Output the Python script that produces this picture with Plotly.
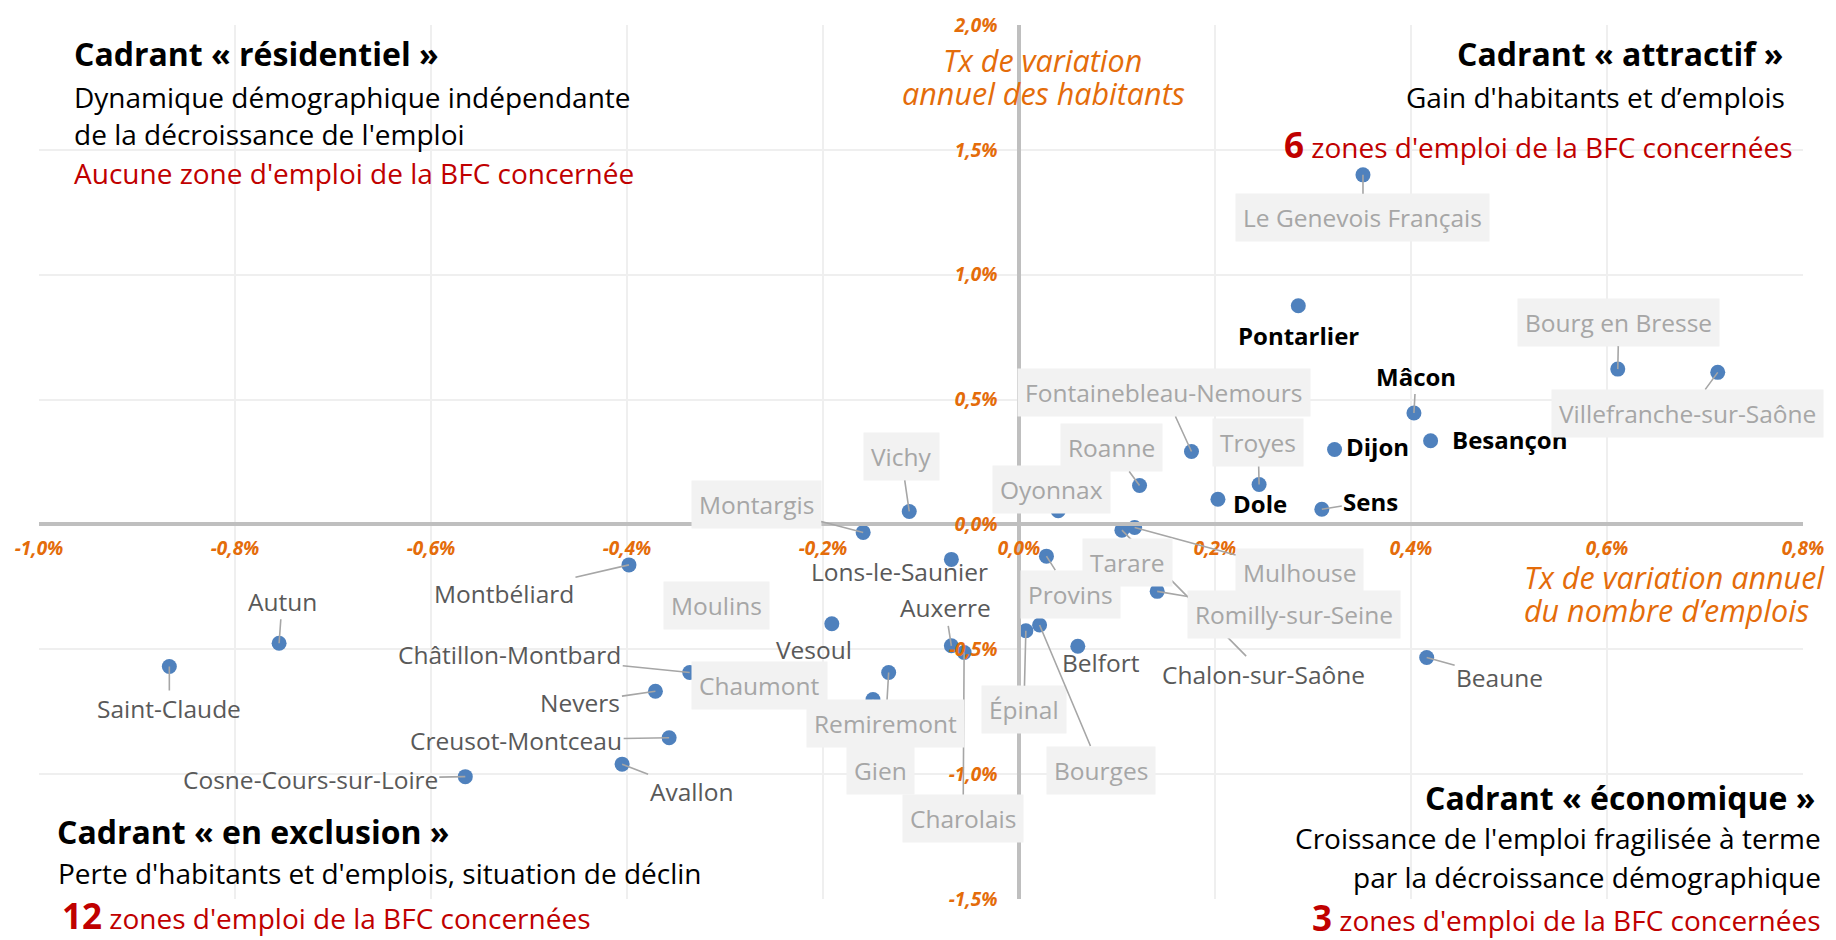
import plotly.graph_objects as go

# ---------------- DATA ----------------
zones = [
    "Le Genevois Français", "Pontarlier", "Mâcon", "Besançon", "Dijon", "Dole", "Sens",
    "Troyes", "Bourg en Bresse", "Villefranche-sur-Saône", "Fontainebleau-Nemours", "Roanne",
    "Oyonnax", "Vichy", "Montargis", "Chalon-sur-Saône", "Mulhouse", "Provins",
    "Romilly-sur-Seine", "Lons-le-Saunier", "Montbéliard", "Vesoul", "Auxerre",
    "Charolais", "Épinal", "Bourges", "Belfort", "Beaune", "Autun", "Saint-Claude",
    "Châtillon-Montbard", "Gien", "Remiremont", "Nevers", "Creusot-Montceau", "Avallon",
    "Cosne-Cours-sur-Loire", "Tarare", "Moulins", "Chaumont",
]
# taux de variation annuel du nombre d'emplois (%)
var_emplois = [
    0.351, 0.285, 0.403, 0.420, 0.322, 0.203, 0.309,
    0.245, 0.611, 0.713, 0.176, 0.123,
    0.040, -0.112, -0.159, 0.105, 0.118, 0.028,
    0.141, -0.069, -0.398, -0.191, -0.069,
    -0.056, 0.007, 0.021, 0.060, 0.416, -0.755, -0.867,
    -0.336, -0.149, -0.133, -0.371, -0.357, -0.405,
    -0.565, 0.111, -0.309, -0.265,
]
# taux de variation annuel des habitants (%)
var_habitants = [
    1.400, 0.876, 0.446, 0.335, 0.300, 0.101, 0.061,
    0.160, 0.622, 0.609, 0.292, 0.156,
    0.055, 0.052, -0.032, -0.023, -0.012, -0.127,
    -0.268, -0.140, -0.162, -0.398, -0.486,
    -0.513, -0.426, -0.403, -0.488, -0.533, -0.476, -0.569,
    -0.593, -0.701, -0.593, -0.668, -0.854, -0.960,
    -1.010, -0.153, -0.325, -0.646,
]
# type de zone : "bfc_attr" (BFC, cadrant attractif), "bfc" (autre zone BFC), "hors" (hors BFC)
zone_type = [
    "hors", "bfc_attr", "bfc_attr", "bfc_attr", "bfc_attr", "bfc_attr", "bfc_attr",
    "hors", "hors", "hors", "hors", "hors",
    "hors", "hors", "hors", "bfc", "hors", "hors",
    "hors", "bfc", "bfc", "bfc", "bfc",
    "hors", "hors", "hors", "bfc", "bfc", "bfc", "bfc",
    "bfc", "hors", "hors", "bfc", "bfc", "bfc",
    "bfc", "hors", "hors", "hors",
]

x_tickvals = [-1.0, -0.8, -0.6, -0.4, -0.2, 0.0, 0.2, 0.4, 0.6, 0.8]
x_ticktext = ["-1,0%", "-0,8%", "-0,6%", "-0,4%", "-0,2%", "0,0%", "0,2%", "0,4%", "0,6%", "0,8%"]
y_tickvals = [-1.5, -1.0, -0.5, 0.0, 0.5, 1.0, 1.5, 2.0]
y_ticktext = ["-1,5%", "-1,0%", "-0,5%", "0,0%", "0,5%", "1,0%", "1,5%", "2,0%"]

# ---------------- LAYOUT / STYLE ----------------
W, H = 1836, 940
ML, MR, MT, MB = 39, 28, 19, 41
FONT = "Open Sans"
ORANGE = "#E46C0A"
RED = "#C00000"
DOT = "#4F81BD"
LEADER = "#A6A6A6"
LABEL_SIZE = 24.5

# label offsets in pixels (dx, dy) and whether a leader line is drawn
label_pos = {
    "Le Genevois Français": (0, 43, True),
    "Pontarlier": (0, 30, False),
    "Mâcon": (2, -37, True),
    "Besançon": (79, -1, False),
    "Dijon": (43, -3, False),
    "Dole": (42, 4, False),
    "Sens": (49, -8, True),
    "Troyes": (-1, -42, True),
    "Bourg en Bresse": (1, -47, True),
    "Villefranche-sur-Saône": (-30, 41, True),
    "Fontainebleau-Nemours": (-27, -59, True),
    "Roanne": (-28, -38, True),
    "Oyonnax": (-7, -21, False),
    "Vichy": (-8, -55, True),
    "Montargis": (-107, -28, True),
    "Chalon-sur-Saône": (142, 144, True),
    "Mulhouse": (165, 45, True),
    "Tarare": (0, 0, False),
    "Provins": (24, 38, True),
    "Romilly-sur-Seine": (137, 23, True),
    "Lons-le-Saunier": (-52, 12, False),
    "Montbéliard": (-125, 29, True),
    "Moulins": (0, 0, False),
    "Vesoul": (-18, 26, False),
    "Auxerre": (-6, -38, True),
    "Charolais": (-1, 166, True),
    "Épinal": (-2, 79, True),
    "Bourges": (61, 145, True),
    "Belfort": (23, 16, False),
    "Beaune": (73, 20, True),
    "Autun": (3, -42, True),
    "Saint-Claude": (0, 42, True),
    "Châtillon-Montbard": (-180, -18, True),
    "Chaumont": (0, 0, False),
    "Remiremont": (-3, 51, True),
    "Gien": (8, 71, True),
    "Nevers": (-75, 11, True),
    "Creusot-Montceau": (-153, 3, True),
    "Avallon": (69, 27, True),
    "Cosne-Cours-sur-Loire": (-155, 3, True),
}

fig = go.Figure()
fig.add_trace(go.Scatter(
    x=var_emplois, y=var_habitants, mode="markers",
    marker=dict(size=15, color=DOT, line=dict(width=0)),
    text=zones, hoverinfo="text", showlegend=False, cliponaxis=False,
))

annotations = []
# text labels first, boxed labels afterwards (boxes hide lines under them)
order = [i for i, t in enumerate(zone_type) if t != "hors"] + [i for i, t in enumerate(zone_type) if t == "hors"]
for i in order:
    name = zones[i]
    dx, dy, leader = label_pos[name]
    t = zone_type[i]
    a = dict(
        x=var_emplois[i], y=var_habitants[i], xref="x", yref="y",
        ax=dx, ay=dy, axref="pixel", ayref="pixel",
        showarrow=True, arrowhead=0, arrowwidth=1.6, standoff=0, startstandoff=0,
        arrowcolor=LEADER if leader else "rgba(0,0,0,0)",
    )
    if t == "bfc_attr":
        a.update(text="<b>" + name + "</b>", font=dict(family=FONT, size=24, color="#000000"))
    elif t == "bfc":
        a.update(text=name, font=dict(family=FONT, size=LABEL_SIZE, color="#595959"))
    else:
        a.update(text=name, font=dict(family=FONT, size=LABEL_SIZE, color="#A6A6A6"),
                 bgcolor="#F2F2F2", borderpad=7)
    annotations.append(a)


def px(xp):
    return (xp - ML) / (W - ML - MR)


def py(yp):
    return 1 - (yp - MT) / (H - MT - MB)


def txt(text, xp, yp, anchor, size, color="#000000", bold=False, italic=False):
    annotations.append(dict(
        text=text, x=px(xp), y=py(yp), xref="paper", yref="paper",
        xanchor=anchor, yanchor="middle", showarrow=False, align=anchor if anchor != "center" else "center",
        font=dict(family=FONT, size=size, color=color,
                  weight="bold" if bold else "normal",
                  style="italic" if italic else "normal"),
    ))


HEAD, BODY, BIG = 32, 28, 35
# Cadrant résidentiel (haut gauche)
txt("Cadrant « résidentiel »", 72, 48, "left", HEAD, bold=True)
txt("Dynamique démographique indépendante", 72, 91, "left", BODY)
txt("de la décroissance de l'emploi", 72, 129, "left", BODY)
txt("Aucune zone d'emploi de la BFC concernée", 72, 168, "left", BODY, color=RED)
# Cadrant attractif (haut droite)
txt("Cadrant « attractif »", 1791, 48, "right", HEAD, bold=True)
txt("Gain d'habitants et d’emplois", 1792, 91, "right", BODY)
txt("<span style='font-size:%dpx'><b>6</b></span> zones d'emploi de la BFC concernées" % BIG,
    1800, 139, "right", BODY, color=RED)
# Cadrant en exclusion (bas gauche)
txt("Cadrant « en exclusion »", 55, 831, "left", HEAD, bold=True)
txt("Perte d'habitants et d'emplois, situation de déclin", 56, 873, "left", BODY)
txt("<span style='font-size:%dpx'><b>12</b></span> zones d'emploi de la BFC concernées" % BIG,
    60, 916, "left", BODY, color=RED)
# Cadrant économique (bas droite)
txt("Cadrant « économique »", 1822, 797, "right", HEAD, bold=True)
txt("Croissance de l'emploi fragilisée à terme", 1828, 838, "right", BODY)
txt("par la décroissance démographique", 1828, 877, "right", BODY)
txt("<span style='font-size:%dpx'><b>3</b></span> zones d'emploi de la BFC concernées" % BIG,
    1828, 918, "right", BODY, color=RED)

# axis titles
TITLE = 30.5
txt("Tx de variation", 1045, 54, "center", TITLE, color=ORANGE, italic=True)
txt("annuel des habitants", 1046, 87, "center", TITLE, color=ORANGE, italic=True)
txt("Tx de variation annuel", 1526, 575, "left", TITLE, color=ORANGE, italic=True)
txt("du nombre d’emplois", 1526, 608, "left", TITLE, color=ORANGE, italic=True)

tickfont = dict(family=FONT, size=19, color=ORANGE, weight="bold", style="italic")
fig.update_layout(
    width=W, height=H,
    margin=dict(l=ML, r=MR, t=MT, b=MB, pad=0),
    paper_bgcolor="white", plot_bgcolor="white",
    font=dict(family=FONT),
    annotations=annotations,
    xaxis=dict(
        range=[-1.0, 0.8], tickvals=x_tickvals, ticktext=x_ticktext,
        anchor="free", position=1.5 / 3.5, side="bottom",
        showline=True, linecolor="#BFBFBF", linewidth=3.5,
        showgrid=True, gridcolor="#EFEFEF", gridwidth=1.5,
        zeroline=False, ticks="", tickfont=tickfont, ticklabelstandoff=6,
        fixedrange=True,
    ),
    yaxis=dict(
        range=[-1.5, 2.0], tickvals=y_tickvals, ticktext=y_ticktext,
        anchor="free", position=1.0 / 1.8, side="left",
        showline=True, linecolor="#BFBFBF", linewidth=3.5,
        showgrid=True, gridcolor="#EFEFEF", gridwidth=1.5,
        zeroline=False, ticks="", tickfont=tickfont, ticklabelstandoff=16,
        fixedrange=True,
    ),
)

fig.write_html("out.html", config={"displayModeBar": False},
               post_script="document.body.style.margin='0px';")
